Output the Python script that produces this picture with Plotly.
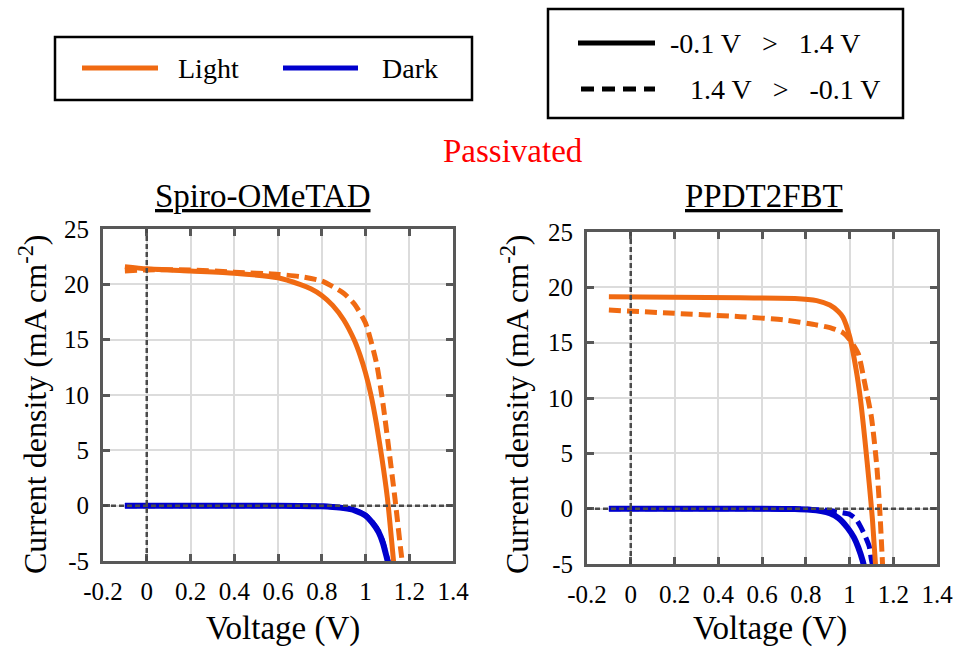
import plotly.graph_objects as go

# ---------------- data ----------------
x_ticks = [-0.2, 0, 0.2, 0.4, 0.6, 0.8, 1.0, 1.2, 1.4]
x_tick_labels = ["-0.2", "0", "0.2", "0.4", "0.6", "0.8", "1", "1.2", "1.4"]
y_ticks = [-5, 0, 5, 10, 15, 20, 25]
y_tick_labels = ["-5", "0", "5", "10", "15", "20", "25"]

# Spiro-OMeTAD
spiro_light_fwd_v = [-0.1, 0.0, 0.2, 0.4, 0.6, 0.7, 0.75, 0.8, 0.85, 0.9, 0.95, 0.975, 1.0, 1.025, 1.05, 1.075, 1.1, 1.13]
spiro_light_fwd_j = [21.6, 21.4, 21.2, 21.0, 20.6, 20.0, 19.6, 19.0, 18.1, 16.8, 14.9, 13.6, 12.0, 10.0, 7.4, 4.3, 0.7, -5.4]
spiro_light_rev_v = [-0.1, 0.0, 0.2, 0.4, 0.6, 0.7, 0.8, 0.9, 0.95, 1.0, 1.05, 1.08, 1.11, 1.135, 1.16, 1.17]
spiro_light_rev_j = [21.2, 21.3, 21.3, 21.1, 20.9, 20.7, 20.3, 19.2, 18.2, 16.5, 12.9, 9.2, 4.6, 0.6, -3.8, -5.4]
spiro_dark_fwd_v = [-0.1, 0.2, 0.5, 0.7, 0.8, 0.85, 0.9, 0.95, 1.0, 1.03, 1.06, 1.08, 1.1, 1.11]
spiro_dark_fwd_j = [0.0, 0.0, 0.0, -0.02, -0.06, -0.12, -0.22, -0.42, -0.9, -1.5, -2.4, -3.4, -4.9, -5.6]
spiro_dark_rev_v = [-0.1, 0.2, 0.5, 0.7, 0.8, 0.85, 0.9, 0.95, 1.0, 1.03, 1.06, 1.08, 1.1, 1.11]
spiro_dark_rev_j = [0.0, 0.0, 0.0, -0.02, -0.05, -0.1, -0.2, -0.4, -0.85, -1.45, -2.3, -3.3, -4.8, -5.6]

# PPDT2FBT
ppdt_light_fwd_v = [-0.1, 0.2, 0.5, 0.75, 0.85, 0.91, 0.95, 0.97, 1.0, 1.03, 1.05, 1.07, 1.09, 1.105, 1.12]
ppdt_light_fwd_j = [19.15, 19.1, 19.05, 19.0, 18.8, 18.4, 17.8, 17.3, 15.6, 12.6, 9.9, 6.3, 2.3, -1.0, -5.4]
ppdt_light_rev_v = [-0.1, 0.2, 0.5, 0.7, 0.85, 0.92, 0.97, 1.0, 1.04, 1.07, 1.1, 1.125, 1.14, 1.152]
ppdt_light_rev_j = [17.95, 17.65, 17.35, 17.05, 16.6, 16.3, 15.9, 15.3, 14.0, 11.3, 8.3, 3.8, -0.7, -5.4]
ppdt_dark_fwd_v = [-0.1, 0.3, 0.6, 0.75, 0.82, 0.87, 0.91, 0.95, 0.99, 1.02, 1.04, 1.06, 1.07]
ppdt_dark_fwd_j = [0.0, 0.0, 0.0, -0.03, -0.1, -0.22, -0.42, -0.85, -1.7, -2.6, -3.5, -4.7, -5.5]
ppdt_dark_rev_v = [-0.1, 0.3, 0.6, 0.8, 0.9, 0.95, 1.0, 1.03, 1.05, 1.07, 1.09, 1.1, 1.11]
ppdt_dark_rev_j = [0.0, 0.0, 0.0, -0.05, -0.15, -0.3, -0.5, -0.95, -1.6, -2.4, -3.4, -4.6, -5.5]

# ---------------- styles ----------------
W, H = 954, 653
ORANGE = "#F06A12"
BLUE = "#0000CD"
FRAME = "#585858"
GRID = "#DCDCDC"
FONT = "Liberation Serif, Times New Roman, DejaVu Serif, serif"
DASH = "12px,6px"
LW = 5


def px(x):
    return x / W


def py(y):
    return 1 - y / H


fig = go.Figure()

panels = [
    ("x", "y", spiro_light_fwd_v, spiro_light_fwd_j, spiro_light_rev_v, spiro_light_rev_j,
     spiro_dark_fwd_v, spiro_dark_fwd_j, spiro_dark_rev_v, spiro_dark_rev_j),
    ("x2", "y2", ppdt_light_fwd_v, ppdt_light_fwd_j, ppdt_light_rev_v, ppdt_light_rev_j,
     ppdt_dark_fwd_v, ppdt_dark_fwd_j, ppdt_dark_rev_v, ppdt_dark_rev_j),
]

for xa, ya, lfv, lfj, lrv, lrj, dfv, dfj, drv, drj in panels:
    fig.add_trace(go.Scatter(x=dfv, y=dfj, xaxis=xa, yaxis=ya, mode="lines",
                             line=dict(color=BLUE, width=LW + 1, shape="spline", smoothing=0.6),
                             showlegend=False, hoverinfo="skip"))
    fig.add_trace(go.Scatter(x=drv, y=drj, xaxis=xa, yaxis=ya, mode="lines",
                             line=dict(color=BLUE, width=LW, dash=DASH, shape="spline", smoothing=0.6),
                             showlegend=False, hoverinfo="skip"))
    fig.add_trace(go.Scatter(x=lfv, y=lfj, xaxis=xa, yaxis=ya, mode="lines",
                             line=dict(color=ORANGE, width=LW, shape="spline", smoothing=0.6),
                             showlegend=False, hoverinfo="skip"))
    fig.add_trace(go.Scatter(x=lrv, y=lrj, xaxis=xa, yaxis=ya, mode="lines",
                             line=dict(color=ORANGE, width=LW, dash=DASH, shape="spline", smoothing=0.6),
                             showlegend=False, hoverinfo="skip"))

axis_common = dict(
    showline=True, mirror="ticks", linecolor=FRAME, linewidth=3,
    ticks="inside", ticklen=7, tickwidth=3, tickcolor=FRAME,
    showgrid=True, gridcolor=GRID, gridwidth=2, zeroline=False,
    tickfont=dict(family=FONT, size=25, color="black"),
    ticklabelstandoff=6, automargin=False,
)

fig.update_layout(
    template="none",
    width=W, height=H,
    margin=dict(l=0, r=0, t=0, b=0, pad=0),
    paper_bgcolor="white", plot_bgcolor="white",
    showlegend=False,
    font=dict(family=FONT, color="black"),
    xaxis=dict(domain=[px(103), px(453)], range=[-0.2, 1.4], tickvals=x_ticks,
               ticktext=x_tick_labels, anchor="y", **axis_common),
    yaxis=dict(domain=[py(561), py(229)], range=[-5, 25], tickvals=y_ticks,
               ticktext=y_tick_labels, anchor="x", **axis_common),
    xaxis2=dict(domain=[px(587), px(937)], range=[-0.2, 1.4], tickvals=x_ticks,
                ticktext=x_tick_labels, anchor="y2", **axis_common),
    yaxis2=dict(domain=[py(564), py(232)], range=[-5, 25], tickvals=y_ticks,
                ticktext=y_tick_labels, anchor="x2", **axis_common),
)

shapes = []
# dotted reference lines at V=0 and J=0
for xa, ya in [("x", "y"), ("x2", "y2")]:
    shapes.append(dict(type="line", xref=xa, yref=ya + " domain", x0=0, x1=0, y0=0, y1=1,
                       line=dict(color="#4a4a4a", width=2.5, dash="5px,3px"), layer="above"))
    shapes.append(dict(type="line", xref=xa + " domain", yref=ya, x0=0, x1=1, y0=0, y1=0,
                       line=dict(color="#4a4a4a", width=2.5, dash="5px,3px"), layer="above"))

# legend boxes
shapes.append(dict(type="rect", xref="paper", yref="paper", x0=px(55), x1=px(472), y0=py(100), y1=py(37),
                   line=dict(color="black", width=2.5), fillcolor="white"))
shapes.append(dict(type="rect", xref="paper", yref="paper", x0=px(548), x1=px(903), y0=py(118), y1=py(9),
                   line=dict(color="black", width=2.5), fillcolor="white"))
# legend samples
shapes.append(dict(type="line", xref="paper", yref="paper", x0=px(82), x1=px(158), y0=py(68), y1=py(68),
                   line=dict(color=ORANGE, width=LW)))
shapes.append(dict(type="line", xref="paper", yref="paper", x0=px(283), x1=px(358), y0=py(68), y1=py(68),
                   line=dict(color=BLUE, width=LW)))
shapes.append(dict(type="line", xref="paper", yref="paper", x0=px(578), x1=px(655), y0=py(43), y1=py(43),
                   line=dict(color="black", width=LW)))
shapes.append(dict(type="line", xref="paper", yref="paper", x0=px(581), x1=px(655), y0=py(89), y1=py(89),
                   line=dict(color="black", width=LW, dash="13px,8px")))
fig.update_layout(shapes=shapes)

nb = "\u00a0"
ann = []


def text(x, y, s, size, color="black", xanchor="center", angle=0, under=False):
    f = dict(family=FONT, size=size, color=color)
    if under:
        f["lineposition"] = "under"
    ann.append(dict(x=px(x), y=py(y), xref="paper", yref="paper", text=s, showarrow=False,
                    xanchor=xanchor, yanchor="middle", textangle=angle, font=f))


text(176, 69, "Light", 28, xanchor="left")
text(380, 69, "Dark", 28, xanchor="left")
text(668, 43, f"-0.1 V{nb}{nb}{nb}>{nb}{nb}{nb}1.4 V", 28, xanchor="left")
text(688, 89, f"1.4 V{nb}{nb}{nb}>{nb}{nb}{nb}-0.1 V", 28, xanchor="left")
text(513, 151, "Passivated", 33, color="#FF0000")
text(263, 196, "Spiro-OMeTAD", 33, under=True)
text(764, 196, "PPDT2FBT", 33, under=True)
text(283, 628, "Voltage (V)", 33)
text(770, 628, "Voltage (V)", 33)
text(33, 405, "Current density (mA cm<sup>-2</sup>)", 32, angle=-90)
text(515, 405, "Current density (mA cm<sup>-2</sup>)", 32, angle=-90)
fig.update_layout(annotations=ann)

fig.write_html("out.html", config={"displayModeBar": False},
               post_script="document.body.style.margin='0';")
